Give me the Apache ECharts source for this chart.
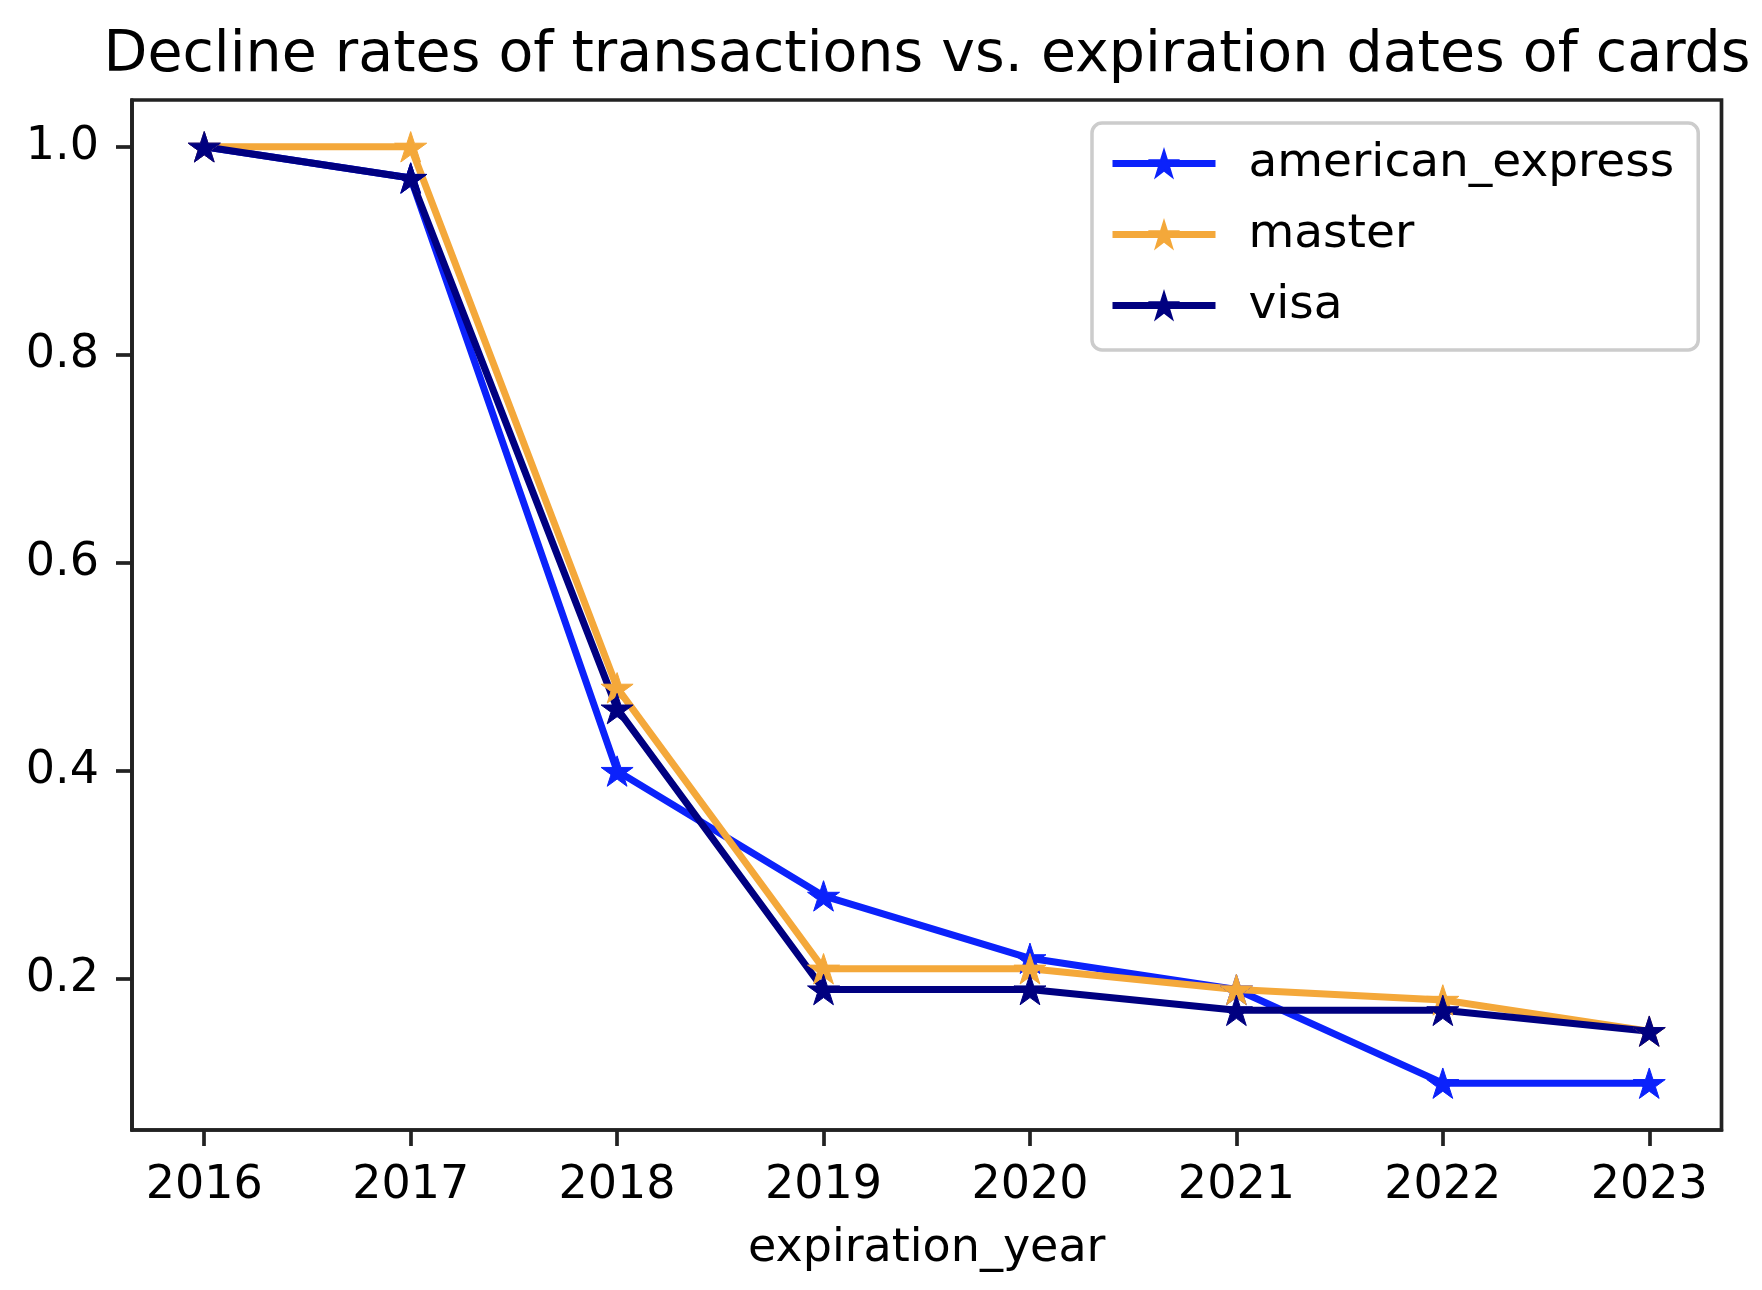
<!DOCTYPE html>
<html>
<head>
<meta charset="utf-8">
<script src="https://cdn.jsdelivr.net/npm/echarts@6/dist/echarts.min.js"></script>
<style>
html,body{margin:0;padding:0;background:#fff;}
#chart{width:1762px;height:1290px;}
</style>
</head>
<body>
<div id="chart"></div>
<script>
var years = [2016, 2017, 2018, 2019, 2020, 2021, 2022, 2023];
var americanExpress = [1.0, 0.97, 0.40, 0.28, 0.22, 0.19, 0.10, 0.10];
var master = [1.0, 1.0, 0.48, 0.21, 0.21, 0.19, 0.18, 0.15];
var visa = [1.0, 0.97, 0.46, 0.19, 0.19, 0.17, 0.17, 0.15];
var yTicks = [0.2, 0.4, 0.6, 0.8, 1.0];
var seriesNames = ['american_express', 'master', 'visa'];

var FONT = 'DejaVu Sans';
var STAR = 'path://M50,0 L61.2,34.5 L97.6,34.5 L68.2,55.9 L79.4,90.5 L50,69.1 L20.6,90.5 L31.8,55.9 L2.4,34.5 L38.8,34.5 Z';
var colors = ['#0b22fb', '#f4a83a', '#000080'];

function pairs(vals) {
  return years.map(function (y, i) { return [y, vals[i]]; });
}

var seriesData = [americanExpress, master, visa];

var chart = echarts.init(document.getElementById('chart'), null, {renderer: 'canvas'});
chart.setOption({
  animation: false,
  backgroundColor: '#ffffff',
  title: {
    text: 'Decline rates of transactions vs. expiration dates of cards',
    left: 927,
    top: 28,
    padding: 0,
    textAlign: 'center',
    textStyle: {fontFamily: FONT, fontSize: 57, fontWeight: 'normal', color: '#000'}
  },
  legend: {
    orient: 'vertical',
    left: 1092,
    top: 123,
    padding: [17, 24, 21, 17],
    itemWidth: 103,
    itemHeight: 33,
    itemGap: 24,
    backgroundColor: 'rgba(255,255,255,0.8)',
    borderColor: '#cccccc',
    borderWidth: 3.5,
    borderRadius: 10,
    data: seriesNames,
    lineStyle: {width: 7},
    textStyle: {fontFamily: FONT, fontSize: 47, color: '#000', lineHeight: 46, padding: [0, 0, 0, 28]}
  },
  grid: {
    left: 132,
    top: 100,
    right: 40.5,
    bottom: 160,
    show: true,
    borderColor: '#222',
    borderWidth: 3.7,
    backgroundColor: 'transparent',
    containLabel: false
  },
  xAxis: {
    type: 'value',
    min: 2015.65,
    max: 2023.35,
    name: 'expiration_year',
    nameLocation: 'middle',
    nameGap: 96,
    nameTextStyle: {fontFamily: FONT, fontSize: 46, color: '#000', lineHeight: 46},
    axisLine: {show: true, lineStyle: {color: '#222', width: 3.7}},
    axisTick: {show: true, length: 16, lineStyle: {color: '#222', width: 3.7}, customValues: years},
    axisLabel: {show: true, margin: 33, fontFamily: FONT, fontSize: 46, color: '#000', customValues: years,
      formatter: function (v) { return String(Math.round(v)); }},
    splitLine: {show: false}
  },
  yAxis: {
    type: 'value',
    min: 0.055,
    max: 1.045,
    axisLine: {show: true, lineStyle: {color: '#222', width: 3.7}},
    axisTick: {show: true, length: 16, lineStyle: {color: '#222', width: 3.7}, customValues: yTicks},
    axisLabel: {show: true, margin: 33, fontFamily: FONT, fontSize: 46, color: '#000', customValues: yTicks,
      formatter: function (v) { return v.toFixed(1); }},
    splitLine: {show: false}
  },
  series: seriesNames.map(function (name, i) {
    return {
      name: name,
      type: 'line',
      data: pairs(seriesData[i]),
      symbol: STAR,
      symbolSize: 32,
      symbolKeepAspect: true,
      showAllSymbol: true,
      clip: false,
      lineStyle: {color: colors[i], width: 7},
      itemStyle: {color: colors[i], borderColor: colors[i], borderWidth: 1},
      emphasis: {disabled: true}
    };
  })
});
</script>
</body>
</html>
